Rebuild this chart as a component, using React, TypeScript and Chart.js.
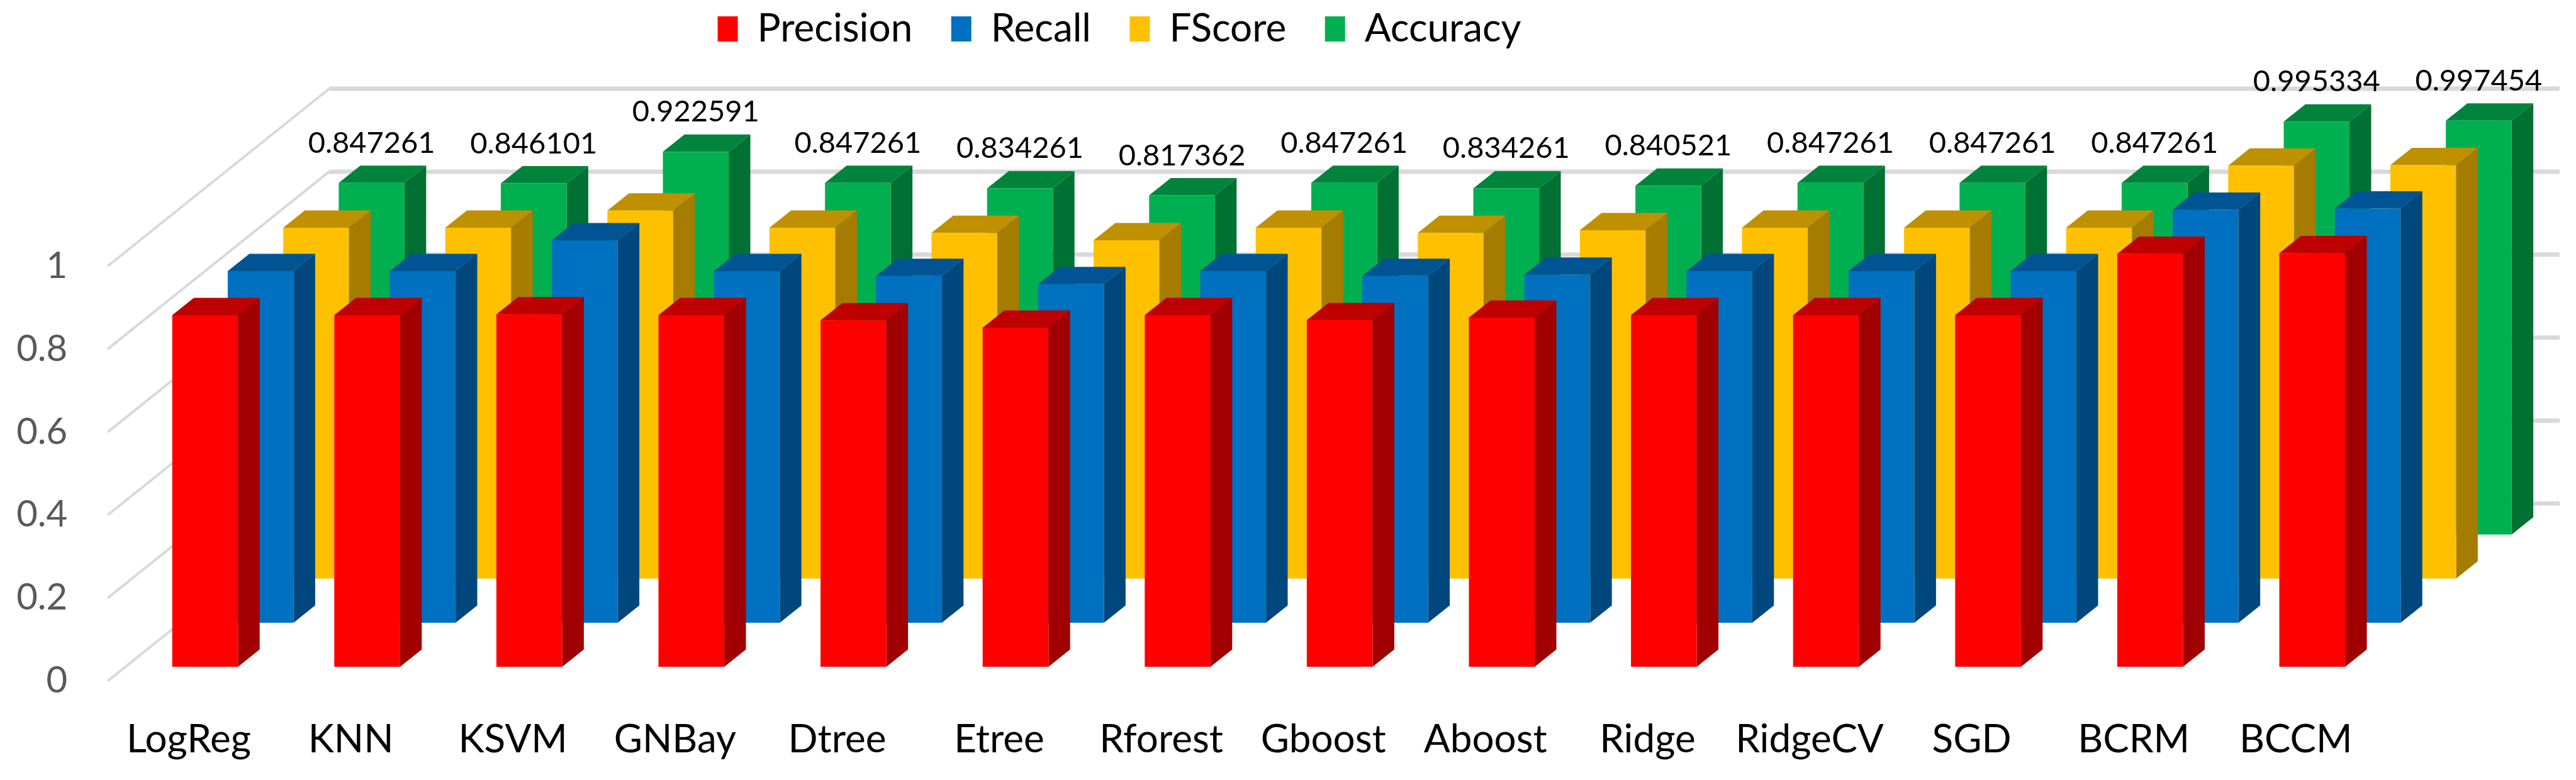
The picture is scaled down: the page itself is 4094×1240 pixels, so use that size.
import React, { useEffect, useRef } from "react";
import { Chart, BarController, registerables } from "chart.js";

Chart.register(...registerables);

const categories = ["LogReg", "KNN", "KSVM", "GNBay", "Dtree", "Etree", "Rforest", "Gboost", "Aboost", "Ridge", "RidgeCV", "SGD", "BCRM", "BCCM"];
const precision = [0.8473, 0.8473, 0.8495, 0.8473, 0.835, 0.8173, 0.8473, 0.8355, 0.8415, 0.8473, 0.8473, 0.8473, 0.9953, 0.997];
const recall = [0.8473, 0.8473, 0.9215, 0.8473, 0.8355, 0.8157, 0.8473, 0.8355, 0.8385, 0.8473, 0.8473, 0.8473, 0.9953, 0.998];
const fscore = [0.8455, 0.8455, 0.887, 0.8455, 0.833, 0.8155, 0.8455, 0.833, 0.8395, 0.8455, 0.8455, 0.8455, 0.9953, 0.9965];
const accuracy = [0.847261, 0.846101, 0.922591, 0.847261, 0.834261, 0.817362, 0.847261, 0.834261, 0.840521, 0.847261, 0.847261, 0.847261, 0.995334, 0.997454];
const seriesNames = ["Precision", "Recall", "FScore", "Accuracy"];
const frontColors = ["#FF0000", "#0070C0", "#FFC000", "#00B050"];
const topColors = ["#BF0000", "#005494", "#BF9000", "#00843C"];
const sideColors = ["#A00000", "#00477E", "#A57C00", "#007033"];

const WIDTH = 4094;
const HEIGHT = 1240;
const AREA_LEFT = 171.2;
const AREA_RIGHT = 3777.6;
const AREA_TOP = 423;
const AREA_BOTTOM = 1082.6;
const FONT = "Lato";

// Oblique projection used by the fake-3D drawing
const ROW_START_X = 26;
const ROW_START_Y = -22.6;
const ROW_STEP_X = 88.2;
const ROW_STEP_Y = -70.1;
const BAR_DEPTH_X = 34.4;
const BAR_DEPTH_Y = -27.5;
const WALL_DX = 352;
const WALL_DY = -282;
const WALL_RIGHT = 4068;

const LEGEND_PADDING = 61.5;
const LEGEND_FONT = 62;
const LEGEND_BOX = 32;

const rowOffset = (i: number) => ({ x: ROW_START_X + ROW_STEP_X * i, y: ROW_START_Y + ROW_STEP_Y * i });

function poly(ctx: CanvasRenderingContext2D, color: string, pts: number[][]) {
  ctx.fillStyle = color;
  ctx.beginPath();
  pts.forEach(([x, y], i) => (i ? ctx.lineTo(x, y) : ctx.moveTo(x, y)));
  ctx.closePath();
  ctx.fill();
}

class Bar3DController extends BarController {
  static id = "bar3d";
  static defaults = BarController.defaults;
  static overrides = BarController.overrides;

  draw() {
    const ctx = this.chart.ctx;
    const i = this.index;
    const off = rowOffset(i);
    for (const el of this.getMeta().data as any[]) {
      const l = el.x - el.width / 2 + off.x;
      const r = el.x + el.width / 2 + off.x;
      const t = el.y + off.y;
      const b = el.base + off.y;
      poly(ctx, sideColors[i], [[r, t], [r + BAR_DEPTH_X, t + BAR_DEPTH_Y], [r + BAR_DEPTH_X, b + BAR_DEPTH_Y], [r, b]]);
      poly(ctx, topColors[i], [[l, t], [l + BAR_DEPTH_X, t + BAR_DEPTH_Y], [r + BAR_DEPTH_X, t + BAR_DEPTH_Y], [r, t]]);
      poly(ctx, frontColors[i], [[l, t], [r, t], [r, b], [l, b]]);
    }
  }
}
Chart.register(Bar3DController);

const legendPlacement = {
  id: "legendPlacement",
  afterLayout(chart: any) {
    const legend = chart.legend;
    legend.left = 1140.6 - LEGEND_PADDING;
    legend.right = 3900;
    legend.top = 46 - LEGEND_FONT / 2 - LEGEND_PADDING;
    legend.bottom = 140;
  },
};

const walls = {
  id: "walls",
  beforeDatasetsDraw(chart: any) {
    const { ctx, scales } = chart;
    const y = scales.y;
    ctx.save();
    ctx.strokeStyle = "#D9D9D9";
    for (const tick of y.ticks) {
      const py = y.getPixelForValue(tick.value);
      ctx.lineWidth = 4;
      ctx.beginPath();
      ctx.moveTo(AREA_LEFT, py);
      ctx.lineTo(AREA_LEFT + WALL_DX, py + WALL_DY);
      ctx.stroke();
      ctx.lineWidth = 7;
      ctx.beginPath();
      ctx.moveTo(AREA_LEFT + WALL_DX, py + WALL_DY);
      ctx.lineTo(WALL_RIGHT, py + WALL_DY);
      ctx.stroke();
    }
    ctx.restore();
  },
};

const accuracyLabels = {
  id: "accuracyLabels",
  afterDatasetsDraw(chart: any) {
    const { ctx } = chart;
    const off = rowOffset(3);
    ctx.save();
    ctx.font = `47px ${FONT}`;
    ctx.fillStyle = "#000000";
    ctx.textAlign = "center";
    ctx.textBaseline = "alphabetic";
    chart.getDatasetMeta(3).data.forEach((el: any, i: number) => {
      ctx.fillText(accuracy[i].toFixed(6), el.x + off.x, el.y + off.y - 48);
    });
    ctx.restore();
  },
};

export default function App() {
  const ref = useRef<HTMLCanvasElement>(null);
  useEffect(() => {
    const values = [precision, recall, fscore, accuracy];
    const chart = new Chart(ref.current!, {
      type: "bar3d" as any,
      data: {
        labels: categories,
        datasets: seriesNames.map((label, i) => ({
          label,
          data: values[i],
          backgroundColor: frontColors[i],
          borderWidth: 0,
          grouped: false,
          barThickness: 104.6,
          clip: false as any,
        })),
      },
      options: {
        responsive: false,
        animation: false,
        devicePixelRatio: 1,
        layout: {
          autoPadding: false,
          padding: {
            left: 0,
            top: AREA_TOP - (LEGEND_FONT + LEGEND_PADDING + 10),
            right: WIDTH - AREA_RIGHT,
            bottom: 0,
          },
        },
        plugins: {
          title: { display: false },
          tooltip: { enabled: false },
          legend: {
            display: true,
            position: "top",
            align: "start",
            labels: {
              boxWidth: LEGEND_BOX,
              boxHeight: 40,
              padding: LEGEND_PADDING,
              color: "#000000",
              font: { family: FONT, size: LEGEND_FONT },
            },
          },
        },
        scales: {
          x: {
            type: "category",
            border: { display: false },
            grid: { display: false, drawTicks: false },
            afterFit: (s: any) => { s.height = HEIGHT - AREA_BOTTOM; },
            ticks: {
              autoSkip: false,
              maxRotation: 0,
              padding: 56,
              color: "#000000",
              font: { family: FONT, size: 62 },
            },
          },
          y: {
            type: "linear",
            min: 0,
            max: 1,
            border: { display: false },
            grid: { display: false, drawTicks: false },
            afterFit: (s: any) => { s.width = AREA_LEFT; },
            ticks: {
              stepSize: 0.2,
              padding: 64,
              color: "#595959",
              font: { family: FONT, size: 58 },
              callback: (v: any) => String(Math.round(Number(v) * 10) / 10),
            },
          },
        },
      },
      plugins: [legendPlacement, walls, accuracyLabels],
    } as any);
    return () => chart.destroy();
  }, []);
  return (
    <div style={{ position: "absolute", left: 0, top: 0, width: WIDTH, height: HEIGHT, background: "#FFFFFF" }}>
      <canvas ref={ref} width={WIDTH} height={HEIGHT} style={{ display: "block" }} />
    </div>
  );
}
